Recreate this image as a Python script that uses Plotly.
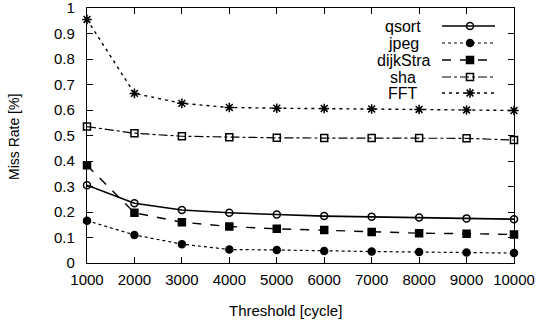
import plotly.graph_objects as go

thresholds = [1000, 2000, 3000, 4000, 5000, 6000, 7000, 8000, 9000, 10000]
x_labels = ["1000", "2000", "3000", "4000", "5000", "6000", "7000", "8000", "9000", "10000"]
qsort = [0.305, 0.234, 0.208, 0.197, 0.190, 0.184, 0.181, 0.178, 0.175, 0.172]
jpeg = [0.166, 0.110, 0.074, 0.053, 0.051, 0.047, 0.045, 0.043, 0.041, 0.039]
dijkstra = [0.383, 0.197, 0.160, 0.143, 0.134, 0.129, 0.122, 0.117, 0.115, 0.112]
sha = [0.535, 0.509, 0.497, 0.493, 0.491, 0.490, 0.490, 0.490, 0.489, 0.482]
fft = [0.955, 0.665, 0.626, 0.610, 0.607, 0.606, 0.604, 0.602, 0.600, 0.598]
y_ticks = [0, 0.1, 0.2, 0.3, 0.4, 0.5, 0.6, 0.7, 0.8, 0.9, 1]
y_labels = ["0", "0.1", "0.2", "0.3", "0.4", "0.5", "0.6", "0.7", "0.8", "0.9", "1"]

series = [
    ("qsort", qsort, "solid", "circle-open", 7, 1.6),
    ("jpeg", jpeg, "dot", "circle", 7, 1.2),
    ("dijkStra", dijkstra, "dash", "square", 7, 1.4),
    ("sha", sha, "dashdot", "square-open", 7, 1.2),
    ("FFT", fft, "3px,4px", "asterisk-open", 8, 1.4),
]

FONT = "Liberation Sans, Arial, sans-serif"
L, R, T, B = 87, 26, 8, 59
W, H = 540, 322
PW, PH = W - L - R, H - T - B


def px_x(px):
    return (px - L) / PW


def px_y(py):
    return (H - B - py) / PH


fig = go.Figure()
for name, ys, dash, sym, msize, lw in series:
    fig.add_trace(go.Scatter(
        x=thresholds, y=ys, mode="lines+markers", name=name,
        line=dict(color="black", width=lw, dash=dash),
        marker=dict(symbol=sym, size=msize, color="black",
                    line=dict(color="black", width=1.5)),
        showlegend=False, cliponaxis=False,
    ))

# custom legend (text left, sample right) on an overlay axis
leg_rows = [26, 43, 60, 77, 93]
for (name, ys, dash, sym, msize, lw), row in zip(series, leg_rows):
    yy = px_y(row)
    fig.add_trace(go.Scatter(
        x=[px_x(442), px_x(495)], y=[yy, yy], mode="lines", xaxis="x2", yaxis="y2",
        line=dict(color="black", width=lw, dash=dash), showlegend=False,
        hoverinfo="skip"))
    fig.add_trace(go.Scatter(
        x=[px_x(470)], y=[yy], mode="markers", xaxis="x2", yaxis="y2",
        marker=dict(symbol=sym, size=msize, color="black",
                    line=dict(color="black", width=1.5)),
        showlegend=False, hoverinfo="skip"))
    fig.add_annotation(x=px_x(403), y=yy, xref="x2", yref="y2", text=name,
                       showarrow=False, xanchor="center", yanchor="middle",
                       font=dict(family=FONT, size=16, color="black"))

# axis titles as annotations placed like the reference
fig.add_annotation(x=px_x(285), y=px_y(310), xref="paper", yref="paper",
                   text="Threshold [cycle]", showarrow=False,
                   xanchor="center", yanchor="middle",
                   font=dict(family=FONT, size=15, color="black"))
fig.add_annotation(x=px_x(14), y=px_y(137), xref="paper", yref="paper",
                   text="Miss Rate [%]", showarrow=False, textangle=-90,
                   xanchor="center", yanchor="middle",
                   font=dict(family=FONT, size=14, color="black"))

fig.update_layout(
    width=W, height=H,
    margin=dict(l=L, r=R, t=T, b=B, autoexpand=False),
    paper_bgcolor="white", plot_bgcolor="white",
    font=dict(family=FONT, size=15, color="black"),
    xaxis=dict(
        range=[1000, 10000], tickvals=thresholds, ticktext=x_labels,
        ticks="inside", ticklen=6, tickwidth=1, tickcolor="black",
        showline=True, linecolor="black", linewidth=1.4, mirror="allticks",
        showgrid=False, zeroline=False, automargin=False,
        ticklabelstandoff=3, ticklabeloverflow="allow",
        tickfont=dict(size=15),
    ),
    yaxis=dict(
        range=[0, 1], tickvals=y_ticks, ticktext=y_labels,
        ticks="inside", ticklen=6, tickwidth=1, tickcolor="black",
        showline=True, linecolor="black", linewidth=1.4, mirror="allticks",
        showgrid=False, zeroline=False, automargin=False,
        ticklabelstandoff=8, ticklabeloverflow="allow",
        tickfont=dict(size=15),
    ),
    xaxis2=dict(overlaying="x", range=[0, 1], visible=False, showgrid=False),
    yaxis2=dict(overlaying="y", range=[0, 1], visible=False, showgrid=False),
    showlegend=False,
)

fig.write_html(
    "out.html",
    config={"displayModeBar": False},
    post_script="document.body.style.margin='0';document.body.style.overflow='hidden';",
)
